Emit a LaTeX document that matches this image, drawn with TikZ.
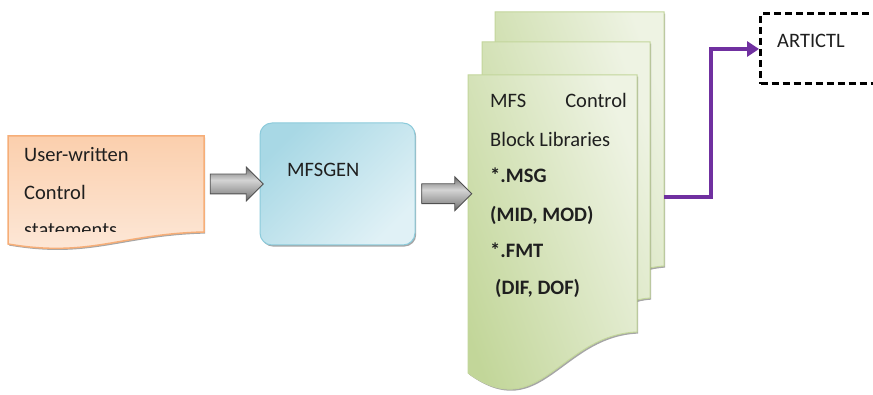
\documentclass[tikz,border=0pt]{standalone}
\usepackage{fontspec}
\setmainfont{Carlito}
\usetikzlibrary{arrows.meta,shapes.arrows,shadows,calc}
\definecolor{orfill1}{HTML}{FBCFAD}
\definecolor{orfill2}{HTML}{FDE9DA}
\definecolor{orline}{HTML}{F6AE78}
\definecolor{blfill1}{HTML}{A8D8E5}
\definecolor{blfill2}{HTML}{E0F1F6}
\definecolor{blline}{HTML}{8CCBDB}
\definecolor{grfill1}{HTML}{C2D699}
\definecolor{grfill2}{HTML}{EEF3E3}
\definecolor{grline}{HTML}{C3D69B}
\definecolor{purp}{HTML}{7030A0}
\definecolor{arrdark}{HTML}{5E5E5E}
\definecolor{arrmid}{HTML}{969696}
\definecolor{arrlight}{HTML}{D4D4D4}
\definecolor{arrline}{HTML}{505050}
\pgfdeclareverticalshading{arrshade}{100bp}{color(0bp)=(arrdark); color(25bp)=(arrdark); color(36bp)=(arrmid); color(56bp)=(arrlight); color(68bp)=(arrmid); color(75bp)=(arrdark); color(100bp)=(arrdark)}
\begin{document}
\begin{tikzpicture}[x=1pt,y=-1pt,
  txt/.style={anchor=base west, inner sep=0pt, font=\fontsize{20.5}{24}\selectfont, text=black!88},
  btxt/.style={txt, font=\fontsize{20.5}{24}\selectfont\bfseries},
  docshadow/.style={drop shadow={shadow xshift=1.2pt,shadow yshift=-1.6pt,opacity=0.35,fill=black}},
  orangedoc/.style={draw=orline, line width=1.5pt, top color=orfill1, bottom color=orfill2, docshadow},
  greendoc/.style={draw=grline, line width=1pt, left color=grfill1, right color=grfill2, shading angle=110, docshadow},
  genbox/.style={draw=blline, line width=1pt, rounded corners=12pt, top color=blfill1, bottom color=blfill2, shading angle=45, docshadow, inner sep=0pt},
  grayarrow/.style={single arrow, draw=arrline, line width=0.8pt, shading=arrshade,
    inner xsep=0pt, inner ysep=9.5pt, single arrow head extend=7pt, single arrow head indent=0pt},
  anchorbox/.style={inner sep=0pt, outer sep=0pt},
  artbox/.style={draw=black, line width=3pt, dash pattern=on 7pt off 4pt, inner sep=0pt},
  link/.style={draw=purp, line width=3.5pt, -{Triangle[length=12pt,width=15pt]}}
]
\clip (0,0) rectangle (873,395);
\fill[white] (0,0) rectangle (873,395);

% user-written control statements (document shape)
\node[anchorbox, minimum width=196pt, minimum height=96pt] (user) at (106,184) {};
\path[orangedoc] (8,136) -- (204,136) -- (204,232) .. controls (120,234) and (90,258) .. (8,244) -- cycle;
\node[txt] (u1) at (24,162) {User-written};
\node[txt] (u2) at (24,200) {Control};
\begin{scope}
  \clip (8,136) rectangle (204,232);
  \node[txt] (u3) at (24,237) {statements};
\end{scope}

% MFSGEN
\node[genbox, minimum width=155pt, minimum height=122pt] (gen) at (337.5,184) {};
\node[txt] (gentxt) at (287,177) {MFSGEN};

% stacked control block libraries
\path[greendoc] (495,12) -- (664,12) -- (664,266) .. controls (600,270) and (570,340) .. (495,310) -- cycle;
\path[greendoc] (482,42) -- (650,42) -- (650,298) .. controls (590,302) and (560,380) .. (482,345) -- cycle;
\path[greendoc] (468,75) -- (637,75) -- (637,332) .. controls (560,335) and (540,425) .. (468,373) -- cycle;
\node[anchorbox, minimum width=169pt, minimum height=257pt] (lib) at (552.5,203.5) {};
\coordinate (libout) at (664,197);
\node[txt] (l1) at (490,108) {MFS};
\node[txt, anchor=base east] (l1b) at (627,108) {Control};
\node[txt] (l2) at (490,147) {Block Libraries};
\node[btxt] (l3) at (490,183) {*.MSG};
\node[btxt] (l4) at (490,222) {(MID, MOD)};
\node[btxt] (l5) at (490,258) {*.FMT};
\node[btxt] (l6) at (495,295) {(DIF, DOF)};

% gray block arrows
\node[grayarrow, minimum height=53pt] (a1) at ($(user.east)!0.5!(gen.west)$) {};
\node[grayarrow, minimum height=50pt] (a2) at ($(gen.east)!0.5!(lib.west)$) {};

% ARTICTL
\node[artbox, minimum width=140pt, minimum height=70pt, anchor=west] (art) at (759,49) {};
\node[txt] (arttxt) at (777,48) {ARTICTL};

% purple connector
\draw[link] (libout) -- (711,197) |- (art.west);
\end{tikzpicture}
\end{document}
